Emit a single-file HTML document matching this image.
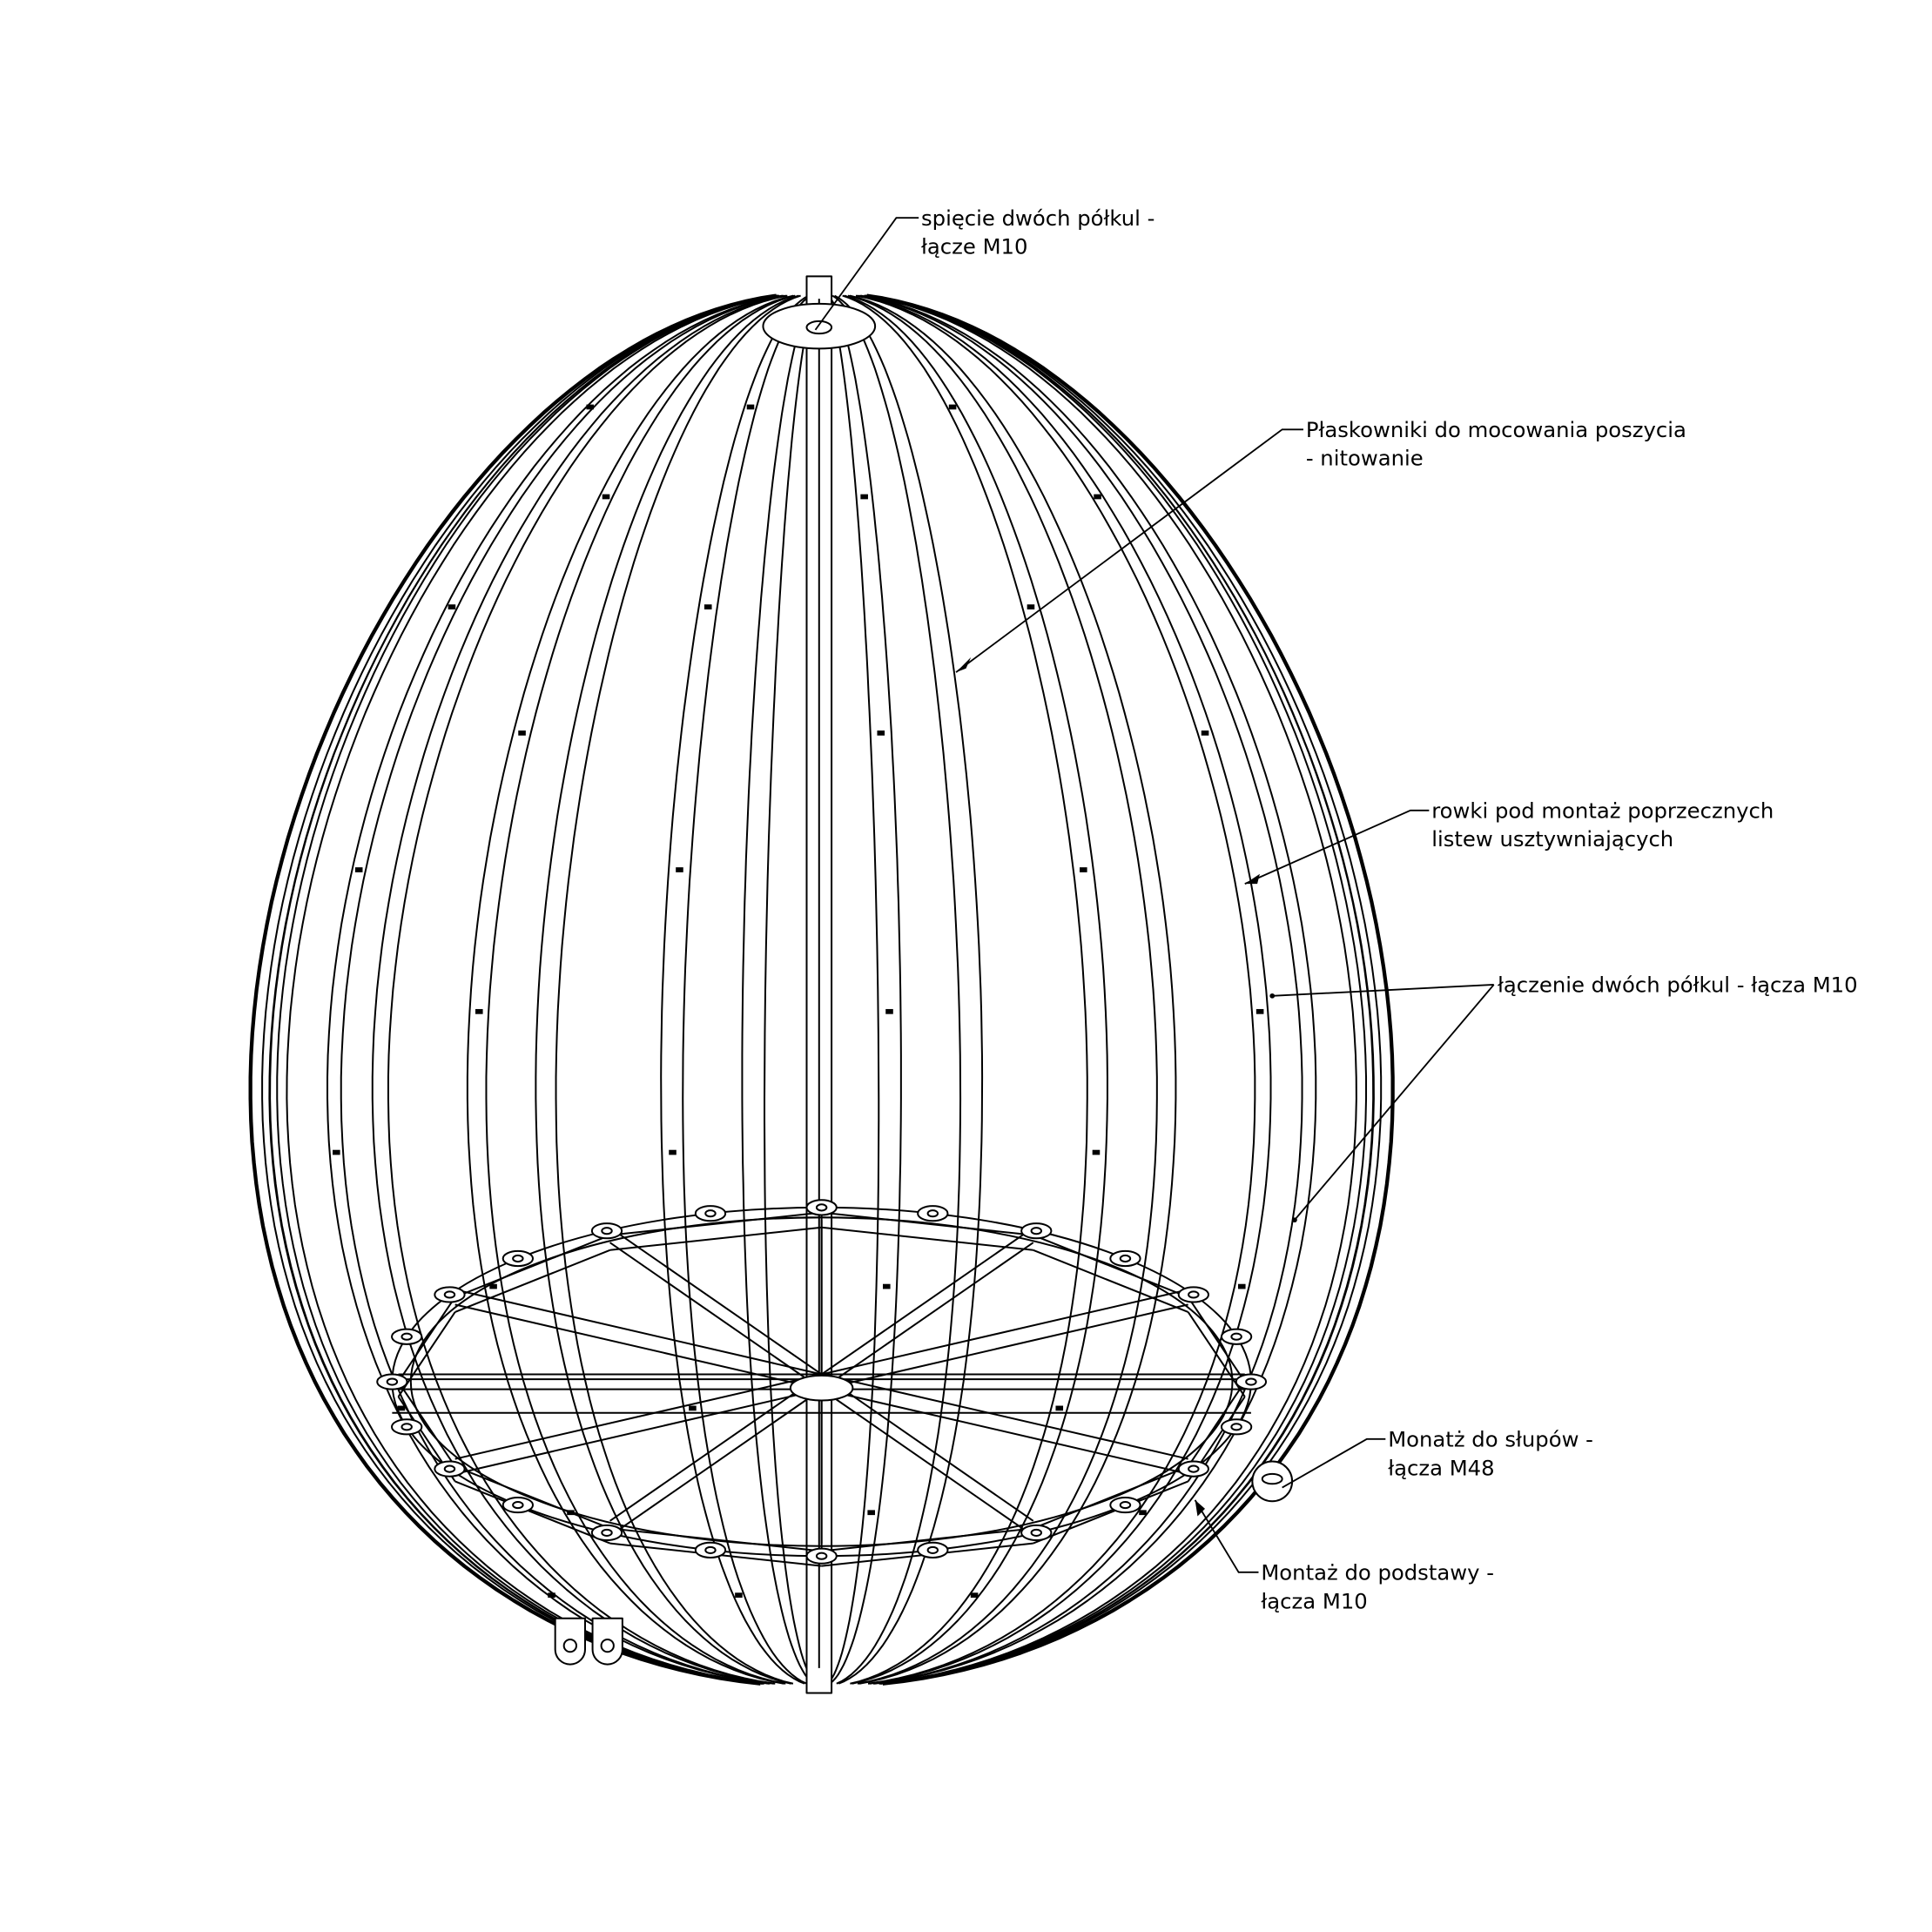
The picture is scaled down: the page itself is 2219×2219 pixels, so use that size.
<!DOCTYPE html>
<html><head><meta charset="utf-8"><style>
html,body{margin:0;padding:0;background:#fff;}
svg{display:block;}
text{font-family:"DejaVu Sans","Liberation Sans",sans-serif;font-size:17px;fill:#000;}
</style></head><body>
<svg id="s" width="2219" height="2219" viewBox="0 0 1552 1552" xmlns="http://www.w3.org/2000/svg">
<g id="g" fill="none" stroke="#000" stroke-width="1.4" stroke-linejoin="round"></g>
<g stroke="#000" stroke-width="1.3" fill="none">
<polyline points="738,175 720,175 655,265"/>
<polyline points="1047,345 1030,345 768,540"/>
<polyline points="1148,651 1133,651 1000,710"/>
<polyline points="1200,791 1022,800"/>
<line x1="1200" y1="791" x2="1040" y2="980"/>
<polyline points="1113,1156 1098,1156 1030,1195"/>
<polyline points="1011,1263 995,1263 960,1205"/>
</g>
<g fill="#000">
<polygon points="768,540 780,528 776,537"/>
<polygon points="1000,710 1012,702 1010,710"/>
<circle cx="1022" cy="800" r="2"/><circle cx="1040" cy="980" r="2"/>
<polygon points="960,1205 962,1218 968,1212"/>
</g>
<text x="740" y="181">spięcie dwóch półkul -</text>
<text x="740" y="204">łącze M10</text>
<text x="1049" y="351">Płaskowniki do mocowania poszycia</text>
<text x="1049" y="374">- nitowanie</text>
<text x="1150" y="657">rowki pod montaż poprzecznych</text>
<text x="1150" y="680">listew usztywniających</text>
<text x="1203" y="797">łączenie dwóch półkul - łącza M10</text>
<text x="1115" y="1162">Monatż do słupów -</text>
<text x="1115" y="1185">łącza M48</text>
<text x="1013" y="1269">Montaż do podstawy -</text>
<text x="1013" y="1292">łącza M10</text>
</svg>
<script>
(function(){
const g=document.getElementById('g');const NS='http://www.w3.org/2000/svg';
function add(tag,a){const e=document.createElementNS(NS,tag);for(const k in a)e.setAttribute(k,a[k]);g.appendChild(e);return e;}
const cx=660;
function P(phi,th,off,sc){sc=sc||1;const y=795-560*Math.cos(phi);const w=445*sc*Math.sin(phi)*(1-0.15*Math.cos(phi));
 return [cx+w*Math.sin(th)+off*Math.sin(phi)*Math.abs(Math.cos(th))+off*0.3*Math.sin(phi), y];}
function curve(th,off,sc){let d='';for(let i=3;i<=97;i++){const phi=Math.PI*i/100;const p=P(phi,th,off,sc);d+=(i==3?'M':'L')+p[0].toFixed(1)+','+p[1].toFixed(1);}return d;}
for(let i=0;i<16;i++){const th=(i*22.5+7)*Math.PI/180;
 add('path',{d:curve(th,-7)});add('path',{d:curve(th,7)});
 for(let k=1;k<12;k++){const phi=Math.PI*(0.12+k*0.065);const p=P(phi,th,0);
  if(Math.cos(th)>0.3 && k%2==i%2) add('rect',{x:p[0]-3,y:p[1]-2,width:6,height:4,fill:'#000',stroke:'none'});}
}
add('path',{d:curve(Math.PI/2,0,1.02),'stroke-width':3});add('path',{d:curve(-Math.PI/2,0,1.02),'stroke-width':3});
add('path',{d:curve(Math.PI/2,0,0.985)});add('path',{d:curve(-Math.PI/2,0,0.985)});
add('rect',{x:648,y:222,width:20,height:1138,fill:'#fff'});
add('line',{x1:658,y1:240,x2:658,y2:1340});
add('ellipse',{cx:658,cy:262,rx:45,ry:18,fill:'#fff'});
add('ellipse',{cx:658,cy:263,rx:10,ry:5});
const bx=660,by=1110;
add('ellipse',{cx:bx,cy:by,rx:345,ry:140});add('ellipse',{cx:bx,cy:by,rx:330,ry:132});
const pts=[];for(let i=0;i<12;i++){const a=i*30*Math.PI/180;pts.push([bx+340*Math.cos(a),by+136*Math.sin(a)]);}
for(let i=0;i<12;i++){const a=pts[i],b=pts[(i+1)%12];add('line',{x1:a[0],y1:a[1],x2:b[0],y2:b[1]});add('line',{x1:a[0],y1:a[1]+12,x2:b[0],y2:b[1]+12});}
for(let i=0;i<12;i+=1){const a=pts[i];add('line',{x1:bx,y1:by-6,x2:a[0],y2:a[1]-6});add('line',{x1:bx,y1:by+6,x2:a[0],y2:a[1]+6});}
add('line',{x1:315,y1:1108,x2:1005,y2:1108});add('line',{x1:315,y1:1135,x2:1005,y2:1135});
for(let i=0;i<24;i++){const a=i*15*Math.PI/180;const x=bx+345*Math.cos(a),y=by+140*Math.sin(a);
 add('ellipse',{cx:x,cy:y,rx:12,ry:6,fill:'#fff'});add('ellipse',{cx:x,cy:y,rx:4,ry:2.5});}
add('ellipse',{cx:660,cy:1115,rx:25,ry:10,fill:'#fff'});
for(const lx of [458,488]){add('path',{d:`M${lx-12},1300 L${lx-12},1325 A12,12 0 0 0 ${lx+12},1325 L${lx+12},1300 Z`,fill:'#fff'});add('circle',{cx:lx,cy:1322,r:5});}
add('circle',{cx:1022,cy:1190,r:16,fill:'#fff'});add('ellipse',{cx:1022,cy:1188,rx:8,ry:4});
})();
</script>
</body></html>
